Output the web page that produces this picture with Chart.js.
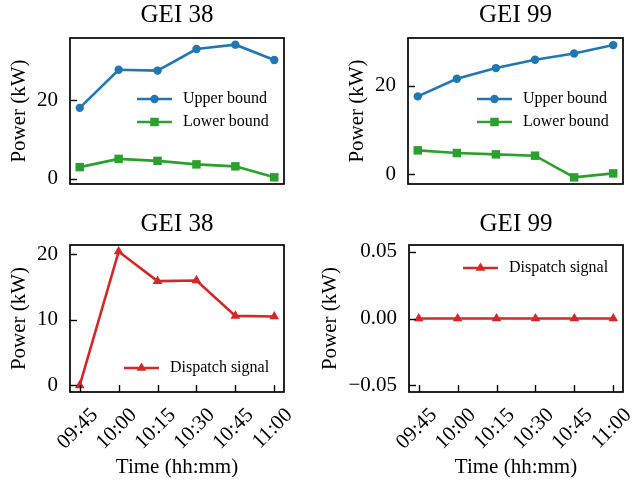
<!DOCTYPE html>
<html>
<head>
<meta charset="utf-8">
<script src="https://cdn.jsdelivr.net/npm/chart.js@4/dist/chart.umd.min.js"></script>
<style>
  html, body { margin: 0; padding: 0; background: #fff; }
  #wrap { position: relative; width: 633px; height: 482px; overflow: hidden; }
  canvas { position: absolute; }
</style>
</head>
<body>
<div id="wrap">
  <canvas id="c1" width="316" height="200" style="left:0;top:0"></canvas>
  <canvas id="c2" width="317" height="200" style="left:316px;top:0"></canvas>
  <canvas id="c3" width="316" height="282" style="left:0;top:200px"></canvas>
  <canvas id="c4" width="317" height="282" style="left:316px;top:200px"></canvas>
</div>
<script>
// ---- data ----
const TIMES = ['09:45', '10:00', '10:15', '10:30', '10:45', '11:00'];
const GEI38_UPPER = [18.1, 27.8, 27.6, 33.1, 34.2, 30.3];
const GEI38_LOWER = [3.0, 5.1, 4.6, 3.7, 3.2, 0.4];
const GEI99_UPPER = [17.6, 21.6, 24.0, 25.9, 27.3, 29.2];
const GEI99_LOWER = [5.4, 4.8, 4.5, 4.2, -0.7, 0.2];
const GEI38_DISPATCH = [0, 20.4, 15.9, 16.0, 10.6, 10.5];
const GEI99_DISPATCH = [0, 0, 0, 0, 0, 0];
const Y_TICKS_TOP = [0, 20];
const Y_TICKS_BL = [0, 10, 20];
const Y_TICKS_BR = [-0.05, 0, 0.05];
const Y_TICK_LABELS_BR = ['\u22120.05', '0.00', '0.05'];
const TITLES = ['GEI 38', 'GEI 99'];
const SERIES_NAMES = ['Upper bound', 'Lower bound', 'Dispatch signal'];

const BLUE = '#1f77b4', GREEN = '#2ca02c', RED = '#d62728';
const FONT = "'Liberation Serif', 'Times New Roman', serif";
Chart.defaults.font.family = FONT;
Chart.defaults.color = '#000';

function drawMarker(ctx, style, x, y, r, color) {
  ctx.save();
  ctx.fillStyle = color;
  ctx.beginPath();
  if (style === 'circle') {
    ctx.arc(x, y, r, 0, Math.PI * 2);
  } else if (style === 'rect') {
    const s = r * Math.SQRT1_2;
    ctx.rect(x - s, y - s, 2 * s, 2 * s);
  } else if (style === 'triangle') {
    ctx.moveTo(x, y - r);
    ctx.lineTo(x + r * Math.sin(Math.PI / 3), y + r * 0.5);
    ctx.lineTo(x - r * Math.sin(Math.PI / 3), y + r * 0.5);
    ctx.closePath();
  }
  ctx.fill();
  ctx.restore();
}

const framePlugin = {
  id: 'mplFrame',
  afterDatasetsDraw(chart, args, opts) {
    const ctx = chart.ctx;
    const a = chart.chartArea;
    ctx.save();
    ctx.strokeStyle = '#000';
    ctx.lineWidth = 1.4;
    const ys = chart.scales.y;
    ys.ticks.forEach(t => {
      const p = Math.round(ys.getPixelForValue(t.value)) + 0.5;
      ctx.beginPath(); ctx.moveTo(a.left, p); ctx.lineTo(a.left + 7, p); ctx.stroke();
    });
    if (opts.xTicks) {
      const xs = chart.scales.x;
      xs.ticks.forEach(t => {
        const p = Math.round(xs.getPixelForValue(t.value)) + 0.5;
        ctx.beginPath(); ctx.moveTo(p, a.bottom); ctx.lineTo(p, a.bottom - 7); ctx.stroke();
      });
    }
    ctx.lineWidth = 1.7;
    ctx.strokeRect(a.left, a.top, a.right - a.left, a.bottom - a.top);
    // axes title centred over the plot area
    ctx.fillStyle = '#000';
    ctx.font = '25px ' + FONT;
    ctx.textAlign = 'center';
    ctx.textBaseline = 'middle';
    ctx.fillText(opts.title, (a.left + a.right) / 2, opts.titleY);
    ctx.restore();
  }
};

const legendPlugin = {
  id: 'mplLegend',
  afterDraw(chart, args, opts) {
    const ctx = chart.ctx;
    ctx.save();
    chart.data.datasets.forEach((ds, i) => {
      const y = opts.y + i * 23;
      const x0 = opts.x, x1 = opts.x + 35;
      ctx.strokeStyle = ds.borderColor;
      ctx.lineWidth = ds.borderWidth;
      ctx.beginPath(); ctx.moveTo(x0, y); ctx.lineTo(x1, y); ctx.stroke();
      drawMarker(ctx, ds.pointStyle, (x0 + x1) / 2, y, ds.pointRadius, ds.borderColor);
      ctx.fillStyle = '#000';
      ctx.font = '16px ' + FONT;
      ctx.textAlign = 'left';
      ctx.textBaseline = 'middle';
      ctx.fillText(ds.label, x1 + 11, y);
    });
    ctx.restore();
  }
};

function series(label, values, color, style, radius) {
  return {
    label: label,
    data: values.map((v, i) => ({ x: i, y: v })),
    borderColor: color,
    backgroundColor: color,
    borderWidth: 2.6,
    pointStyle: style,
    pointRadius: radius,
    pointBackgroundColor: color,
    pointBorderColor: color,
    pointBorderWidth: 0,
    tension: 0,
    clip: false
  };
}

function makeChart(id, p) {
  const canvas = document.getElementById(id);
  const W = canvas.width, H = canvas.height;
  const area = p.area;
  return new Chart(canvas, {
    type: 'line',
    data: { datasets: p.datasets },
    options: {
      responsive: false,
      animation: false,
      devicePixelRatio: 1,
      layout: { padding: { left: 0, top: area.top, right: W - area.right, bottom: 0 } },
      plugins: {
        legend: { display: false },
        tooltip: { enabled: false },
        title: { display: false },
        mplFrame: { xTicks: p.showX, title: p.title, titleY: p.titleY },
        mplLegend: p.legend
      },
      scales: {
        x: {
          type: 'linear',
          min: -0.25,
          max: 5.25,
          grid: { display: false },
          border: { display: false },
          afterBuildTicks: s => { s.ticks = TIMES.map((_, i) => ({ value: i })); },
          afterFit: s => { s.height = H - area.bottom; s.paddingLeft = 0; s.paddingRight = 0; },
          ticks: {
            display: p.showX,
            autoSkip: false,
            minRotation: 45,
            maxRotation: 45,
            padding: 3,
            labelOffset: 15,
            font: { size: 21 },
            color: '#000',
            callback: v => TIMES[v]
          },
          title: {
            display: p.showX,
            text: 'Time (hh:mm)',
            font: { size: 21 },
            color: '#000',
            padding: { top: 0, bottom: 2 }
          }
        },
        y: {
          type: 'linear',
          min: p.yMin,
          max: p.yMax,
          grid: { display: false },
          border: { display: false },
          afterBuildTicks: s => { s.ticks = p.yTicks.map(v => ({ value: v })); },
          afterFit: s => { s.width = area.left; s.paddingTop = 0; s.paddingBottom = 0; },
          ticks: {
            padding: 4,
            font: { size: 21 },
            color: '#000',
            callback: (v) => {
              const idx = p.yTicks.findIndex(t => Math.abs(t - v) < 1e-9);
              return p.yTickLabels ? p.yTickLabels[idx] : String(v);
            }
          },
          title: {
            display: true,
            text: 'Power (kW)',
            font: { size: 21 },
            color: '#000',
            padding: { top: p.yTitlePad, bottom: 0 }
          }
        }
      }
    },
    plugins: [framePlugin, legendPlugin]
  });
}

makeChart('c1', {
  title: TITLES[0],
  datasets: [
    series(SERIES_NAMES[0], GEI38_UPPER, BLUE, 'circle', 4.2),
    series(SERIES_NAMES[1], GEI38_LOWER, GREEN, 'rect', 6.0)
  ],
  yMin: -1.3, yMax: 35.9, yTicks: Y_TICKS_TOP,
  area: { left: 70, top: 38, right: 284, bottom: 184 },
  titleY: 15, yTitlePad: 7, showX: false,
  legend: { x: 137, y: 99 }
});
makeChart('c2', {
  title: TITLES[1],
  datasets: [
    series(SERIES_NAMES[0], GEI99_UPPER, BLUE, 'circle', 4.2),
    series(SERIES_NAMES[1], GEI99_LOWER, GREEN, 'rect', 6.0)
  ],
  yMin: -2.2, yMax: 30.8, yTicks: Y_TICKS_TOP,
  area: { left: 92, top: 38, right: 307, bottom: 184 },
  titleY: 15, yTitlePad: 29, showX: false,
  legend: { x: 161, y: 99 }
});
makeChart('c3', {
  title: TITLES[0],
  datasets: [
    series(SERIES_NAMES[2], GEI38_DISPATCH, RED, 'triangle', 5.6)
  ],
  yMin: -1.0, yMax: 21.4, yTicks: Y_TICKS_BL,
  area: { left: 70, top: 45, right: 284, bottom: 192 },
  titleY: 24, yTitlePad: 7, showX: true,
  legend: { x: 124, y: 168 }
});
makeChart('c4', {
  title: TITLES[1],
  datasets: [
    series(SERIES_NAMES[2], GEI99_DISPATCH, RED, 'triangle', 5.6)
  ],
  yMin: -0.055, yMax: 0.055, yTicks: Y_TICKS_BR, yTickLabels: Y_TICK_LABELS_BR,
  area: { left: 93, top: 45, right: 307, bottom: 192 },
  titleY: 24, yTitlePad: 2, showX: true,
  legend: { x: 147, y: 68 }
});
</script>
</body>
</html>
